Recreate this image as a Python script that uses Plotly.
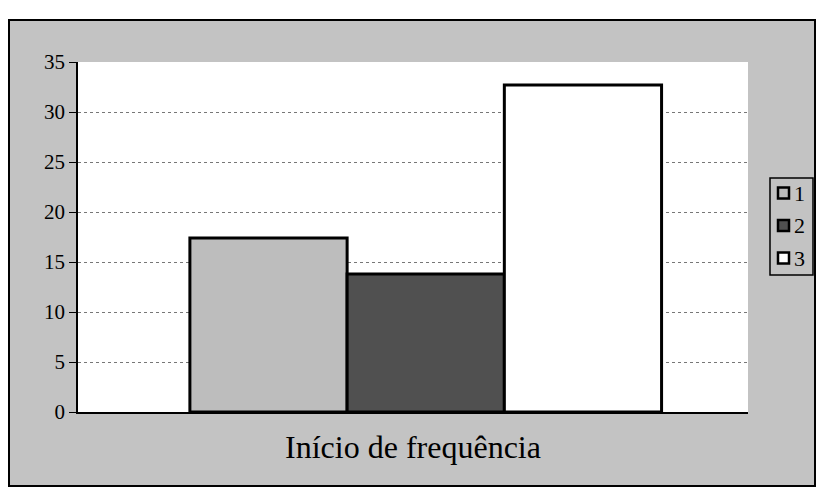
import plotly.graph_objects as go

categories = ["Início de frequência"]
series_names = ["1", "2", "3"]
series_values = [17.4, 13.8, 32.7]
series_colors = ["#bdbdbd", "#505050", "#ffffff"]
y_ticks = [0, 5, 10, 15, 20, 25, 30, 35]

FONT = "Liberation Serif, Times New Roman, serif"
BG = "#c3c3c3"

fig = go.Figure()
for name, val, col in zip(series_names, series_values, series_colors):
    fig.add_trace(go.Bar(
        x=[0], y=[val], name=name,
        marker=dict(color=col, line=dict(color="black", width=3)),
        showlegend=False,
    ))

L, R, T, B = 78, 70, 62, 82
W, H = 818, 494
pw, ph = W - L - R, H - T - B

def px_x(px):
    return (px - L) / pw

def px_y(py):
    return (H - B - py) / ph

# chart frame and white plot area
fig.add_shape(type="rect", xref="paper", yref="paper",
              x0=px_x(9), x1=px_x(815), y0=px_y(486), y1=px_y(20),
              fillcolor=BG, line=dict(color="black", width=2), layer="below")
fig.add_shape(type="rect", xref="x domain", yref="y domain",
              x0=0, x1=1, y0=0, y1=1,
              fillcolor="white", line=dict(width=0), layer="below")

# legend (drawn as box + swatches + labels)
fig.add_shape(type="rect", xref="paper", yref="paper",
              x0=px_x(770), x1=px_x(813), y0=px_y(275), y1=px_y(178),
              fillcolor=BG, line=dict(color="black", width=1.5))
for i, (name, col) in enumerate(zip(series_names, series_colors)):
    cy = 193 + i * 32.5
    fig.add_shape(type="rect", xref="paper", yref="paper",
                  x0=px_x(778), x1=px_x(789), y0=px_y(cy + 5.5), y1=px_y(cy - 5.5),
                  fillcolor=col, line=dict(color="black", width=2.5))
    fig.add_annotation(xref="paper", yref="paper", x=px_x(792), y=px_y(cy),
                       xanchor="left", yanchor="middle", text=name, showarrow=False,
                       font=dict(family=FONT, size=22, color="black"))

fig.update_layout(
    width=W, height=H,
    margin=dict(l=L, r=R, t=T, b=B),
    paper_bgcolor="white",
    plot_bgcolor="rgba(0,0,0,0)",
    barmode="group",
    bargap=0.296,
    bargroupgap=0,
    font=dict(family=FONT, color="black"),
    showlegend=False,
    xaxis=dict(
        range=[-0.519, 0.481],
        showticklabels=False, showgrid=False, zeroline=False,
        showline=True, linecolor="black", linewidth=1.5,
        ticks="",
        title=dict(text=categories[0], font=dict(family=FONT, size=32, color="black"), standoff=23),
    ),
    yaxis=dict(
        range=[0, 35], tickvals=y_ticks, ticktext=[str(v) for v in y_ticks],
        showline=True, linecolor="black", linewidth=1.5,
        ticks="outside", ticklen=7, tickcolor="black",
        showgrid=True, gridcolor="#777777", griddash="dot", gridwidth=1,
        zeroline=False,
        tickfont=dict(family=FONT, size=21, color="black"),
    ),
)

fig.write_html("out.html", config={"displayModeBar": False},
               post_script="document.body.style.margin='0';")
